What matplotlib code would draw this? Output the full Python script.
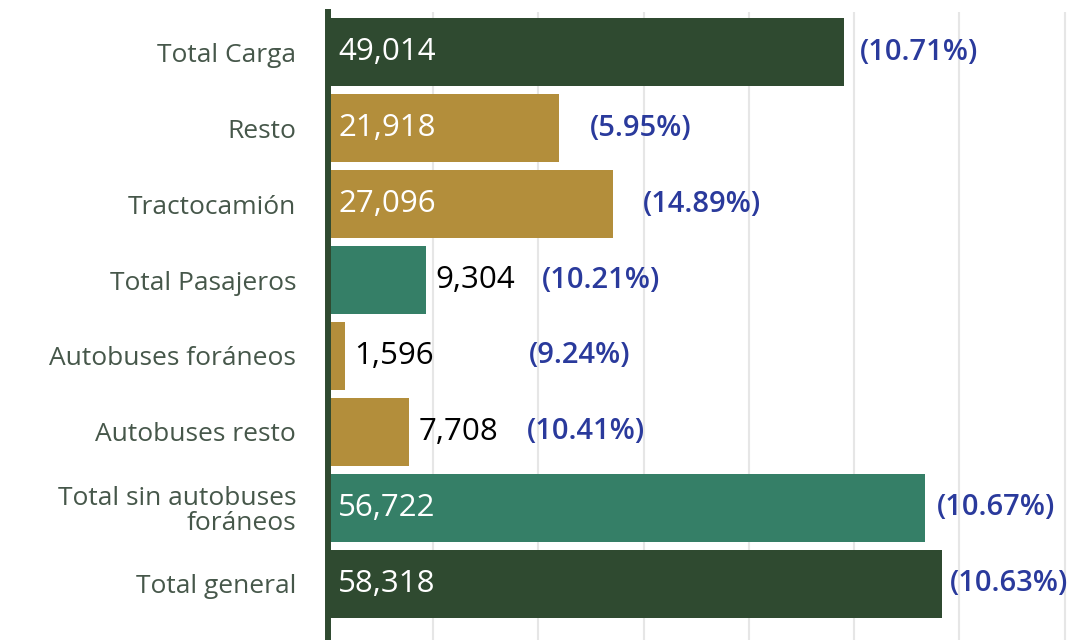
import numpy as np
import matplotlib.pyplot as plt

categories = ['Total Carga', 'Resto', 'Tractocamión', 'Total Pasajeros',
              'Autobuses foráneos', 'Autobuses resto',
              'Total sin autobuses\nforáneos', 'Total general']
values = [49014, 21918, 27096, 9304, 1596, 7708, 56722, 58318]
pcts = ['(10.71%)', '(5.95%)', '(14.89%)', '(10.21%)', '(9.24%)', '(10.41%)', '(10.67%)', '(10.63%)']

c_dark = '#2F4A30'
c_gold = '#B38E3B'
c_teal = '#357F67'
colors = [c_dark, c_gold, c_gold, c_teal, c_gold, c_gold, c_teal, c_dark]
inside = [True, True, True, False, False, False, True, True]
pct_off = [16, 31, 30, 27, 95, 29, 12, 8]  # px gap before percent labels

plt.rcParams['font.family'] = ['Open Sans', 'DejaVu Sans']

fig = plt.figure(figsize=(10.9, 6.4), dpi=100)
ax = fig.add_axes([328 / 1090, 0, 1 - 328 / 1090, 628 / 640])

y = np.arange(len(categories))
ax.barh(y, values, height=0.9, color=colors, zorder=3)

ax.set_xlim(0, 72400)
ax.set_ylim(7.74, -0.53)
ax.set_xticks(np.arange(10000, 70001, 10000))
ax.set_xticklabels([])
ax.tick_params(axis='x', length=0)
ax.tick_params(axis='y', length=0, pad=23)
ax.grid(axis='x', color='#E6E6E6', linewidth=1.5, zorder=0)
ax.set_yticks(y)
ax.set_yticklabels(categories, fontsize=19, color='#46574A', linespacing=1.0)
for s in ['top', 'right', 'bottom']:
    ax.spines[s].set_visible(False)
ax.spines['left'].set_color(c_dark)
ax.spines['left'].set_linewidth(4.3)
ax.spines['left'].set_zorder(5)

fig.canvas.draw()
r = fig.canvas.get_renderer()
px = 0.72  # points per pixel at dpi 100
for i, v in enumerate(values):
    if inside[i]:
        ax.annotate(f'{v:,}', (0, i), xytext=(10 * px, 0), textcoords='offset points',
                    va='center', ha='left', fontsize=22.5, color='white', zorder=4)
        xe = v
    else:
        t = ax.annotate(f'{v:,}', (v, i), xytext=(9 * px, 0), textcoords='offset points',
                        va='center', ha='left', fontsize=22.5, color='black', zorder=4)
        bb = t.get_window_extent(r).transformed(ax.transData.inverted())
        xe = bb.x1
    ax.annotate(pcts[i], (xe, i), xytext=(pct_off[i] * px, 0), textcoords='offset points',
                va='center', ha='left', fontsize=21, color='#2A3A9C',
                fontweight='semibold', zorder=4)

fig.savefig('out.png', dpi=100)
